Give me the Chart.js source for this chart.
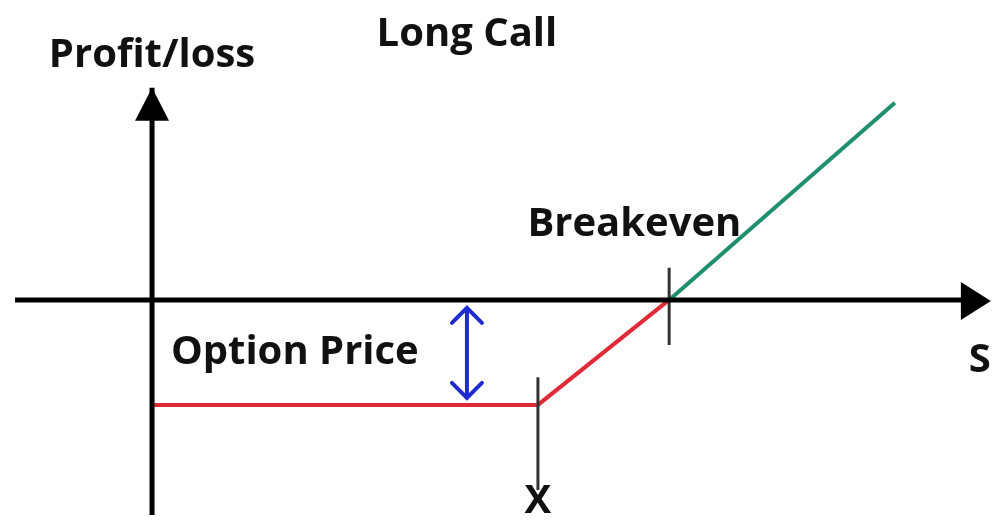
<!DOCTYPE html>
<html>
<head>
<meta charset="utf-8">
<script src="https://cdn.jsdelivr.net/npm/chart.js@4.4.0/dist/chart.umd.min.js"></script>
<style>
  html, body { margin: 0; padding: 0; background: #fff; }
  #wrap { width: 996px; height: 522px; }
</style>
</head>
<body>
<div id="wrap"><canvas id="grafico"></canvas></div>
<script>
// ===== Datos (unidades: precio S / ganancia-pérdida) =====
const strike = 100;
const premium = 34;
const breakeven = strike + premium;

// tramos del pago de la call larga
const lossS = [0, strike, breakeven];
const lossPL = [-premium, -premium, 0];
const gainS = [breakeven, 192.5];
const gainPL = [0, 63.8];

// ejes con flecha
const axisS = [-35.5, 214];     // eje horizontal (S)
const axisPL = [-69.6, 68.7];   // eje vertical (Profit/loss)

// marcas verticales
const strikeTick = [-25, -61.5];
const breakevenTick = [10.4, -14.6];
const priceArrowS = 81.6;       // flecha doble "Option Price"

// textos
const labels = [
  { text: "Long Call", s: 81.6, pl: 85.8 },
  { text: "Profit/loss", s: 0, pl: 79 },
  { text: "Breakeven", s: 125, pl: 24.3 },
  { text: "Option Price", s: 37, pl: -17 },
  { text: "X", s: 100, pl: -65.3 },
  { text: "S", s: 214.5, pl: -19.5 }
];

const pts = (xs, ys) => xs.map((x, i) => ({ x, y: ys[i] }));

// ===== Plugin: flechas y textos =====
const anotaciones = {
  id: 'anotaciones',
  afterDatasetsDraw(chart) {
    const { ctx, scales: { x, y } } = chart;
    ctx.save();

    // punta del eje S
    const tipX = x.getPixelForValue(axisS[1]) + 13;
    const y0 = y.getPixelForValue(0);
    ctx.fillStyle = '#000';
    ctx.beginPath();
    ctx.moveTo(tipX, y0 + 1);
    ctx.lineTo(tipX - 30, y0 - 18);
    ctx.lineTo(tipX - 30, y0 + 20);
    ctx.closePath();
    ctx.fill();

    // punta del eje P/L
    const x0 = x.getPixelForValue(0);
    const tipY = y.getPixelForValue(axisPL[1]);
    ctx.beginPath();
    ctx.moveTo(x0, tipY);
    ctx.lineTo(x0 - 17, tipY + 33);
    ctx.lineTo(x0 + 17, tipY + 33);
    ctx.closePath();
    ctx.fill();

    // flecha doble azul (precio de la opción)
    const ax = x.getPixelForValue(priceArrowS);
    const aTop = y.getPixelForValue(0) + 8;
    const aBot = y.getPixelForValue(-premium) - 7;
    ctx.strokeStyle = '#1d2bd0';
    ctx.lineWidth = 4;
    ctx.lineCap = 'round';
    ctx.beginPath();
    ctx.moveTo(ax, aTop); ctx.lineTo(ax, aBot);
    ctx.moveTo(ax - 15, aTop + 15); ctx.lineTo(ax, aTop); ctx.lineTo(ax + 15, aTop + 15);
    ctx.moveTo(ax - 15, aBot - 15); ctx.lineTo(ax, aBot); ctx.lineTo(ax + 15, aBot - 15);
    ctx.stroke();

    // textos
    ctx.fillStyle = '#111';
    ctx.font = 'bold 40px "Open Sans", sans-serif';
    ctx.textAlign = 'center';
    ctx.textBaseline = 'middle';
    labels.forEach(l => {
      ctx.fillText(l.text, x.getPixelForValue(l.s), y.getPixelForValue(l.pl));
    });
    ctx.restore();
  }
};

const linea = (data, color, width) => ({
  data, borderColor: color, borderWidth: width,
  pointRadius: 0, fill: false, tension: 0, borderCapStyle: 'butt'
});

new Chart(document.getElementById('grafico'), {
  type: 'line',
  data: {
    datasets: [
      linea(pts(axisS, [0, 0]), '#000', 5),
      linea(pts([0, 0], axisPL), '#000', 5),
      linea(pts([strike, strike], strikeTick), '#333', 3),
      linea(pts([breakeven, breakeven], breakevenTick), '#333', 3),
      linea(pts(lossS, lossPL), '#e02a36', 4),
      linea(pts(gainS, gainPL), '#1f8f6c', 4)
    ]
  },
  options: {
    responsive: true,
    maintainAspectRatio: false,
    animation: false,
    layout: { padding: 0 },
    scales: {
      x: { type: 'linear', min: -39.4, max: 218.7, display: false },
      y: { type: 'linear', min: -71.9, max: 97.1, display: false }
    },
    plugins: { legend: { display: false }, tooltip: { enabled: false } }
  },
  plugins: [anotaciones]
});
</script>
</body>
</html>
